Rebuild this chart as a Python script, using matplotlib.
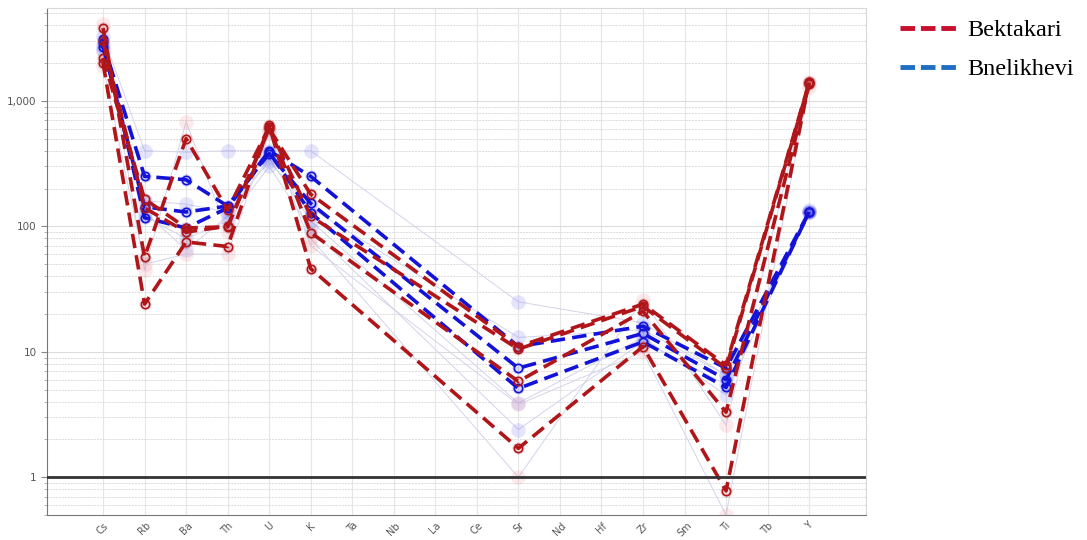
import matplotlib.pyplot as plt
import numpy as np

# spider diagram: normalised trace elements (log scale)
elements = ["Cs", "Rb", "Ba", "Th", "U", "K", "Ta", "Nb", "La", "Ce",
            "Sr", "Nd", "Hf", "Zr", "Sm", "Ti", "Tb", "Y"]
nan = np.nan

# Bektakari samples (red)
bek_1 = [2000, 24, 75, 69, 640, 46, nan, nan, nan, nan, 1.7, nan, nan, 11, nan, 0.78, nan, 1400]
bek_2 = [3800, 57, 500, 135, 620, 89, nan, nan, nan, nan, 5.8, nan, nan, 21, nan, 3.3, nan, 1350]
bek_3 = [2200, 165, 97, 99, 600, 180, nan, nan, nan, nan, 11, nan, nan, 24, nan, 7.8, nan, 1400]
bek_4 = [3000, 140, 90, 100, 615, 120, nan, nan, nan, nan, 10.5, nan, nan, 23, nan, 7.4, nan, 1380]

# Bnelikhevi samples (blue)
bne_1 = [2900, 250, 235, 145, 400, 250, nan, nan, nan, nan, 11, nan, nan, 16, nan, 7.4, nan, 130]
bne_2 = [2700, 143, 130, 145, 380, 152, nan, nan, nan, nan, 7.4, nan, nan, 14, nan, 6.0, nan, 130]
bne_3 = [3100, 117, 97, 140, 390, 128, nan, nan, nan, nan, 5.1, nan, nan, 12, nan, 5.2, nan, 130]

# faint background samples
bg_blue = [
    [3300, 400, 390, 400, 400, 400, nan, nan, nan, nan, 25, nan, nan, 17, nan, 6.5, nan, 130],
    [2500, 130, 65, 120, 350, 110, nan, nan, nan, nan, 3.9, nan, nan, 13, nan, 4.5, nan, 130],
    [2600, 160, 150, 130, 330, 140, nan, nan, nan, nan, 13, nan, nan, 15, nan, 6.5, nan, 135],
    [2800, 120, 80, 110, 300, 95, nan, nan, nan, nan, 2.4, nan, nan, 12, nan, 5.5, nan, 130],
]
bg_red = [
    [4100, 45, 680, 90, 600, 80, nan, nan, nan, nan, 1.0, nan, nan, 26, nan, 2.6, nan, 1400],
    [1900, 50, 60, 60, 550, 70, nan, nan, nan, nan, 3.8, nan, nan, 10, nan, 0.5, nan, 1300],
]

RED = "#b01519"
BLUE = "#1212d8"

fig = plt.figure(figsize=(10.87, 5.40), dpi=100)
ax = fig.add_axes([0.0432, 0.0463, 0.7535, 0.939])
x = np.arange(len(elements))


def draw(vals, color, faint=False):
    v = np.array(vals, dtype=float)
    m = ~np.isnan(v)
    if faint:
        ax.plot(x[m], v[m], color="#d4d4ea", lw=0.7, zorder=2)
        ax.scatter(x[m], v[m], s=110, color=color, alpha=0.16, lw=0, zorder=2)
    else:
        ax.scatter(x[m], v[m], s=80, color=color, alpha=0.15, lw=0, zorder=3)
        ax.plot(x[m], v[m], color=color, lw=2.6, ls=(0, (4, 2)), marker="o",
                ms=6, mfc="none", mec=color, mew=1.2, zorder=4)


for s in bg_blue:
    draw(s, "#5b5bf0", faint=True)
for s in bg_red:
    draw(s, "#e87a8a", faint=True)
for s in [bne_1, bne_2, bne_3]:
    draw(s, BLUE)
for s in [bek_1, bek_2, bek_3, bek_4]:
    draw(s, RED)

ax.axhline(1, color="#333333", lw=2, zorder=5)

ax.set_yscale("log")
ax.set_ylim(0.5, 5500)
ax.set_xlim(-1.35, 18.37)
ax.set_xticks(x)
ax.set_xticklabels(elements, rotation=45, fontsize=7, color="#555555")
ax.set_yticks([1, 10, 100, 1000])
ax.set_yticklabels(["1", "10", "100", "1,000"], fontsize=7.5, color="#555555")
ax.tick_params(axis="x", length=0, pad=4)
ax.tick_params(axis="y", which="major", length=4, color="#888888")
ax.tick_params(axis="y", which="minor", length=2, color="#aaaaaa", labelleft=False)

ax.grid(axis="x", color="#e6e6e6", lw=0.8)
ax.grid(axis="y", which="major", color="#dcdcdc", lw=0.8)
ax.grid(axis="y", which="minor", color="#dcdcdc", lw=0.7, ls=(0, (2, 1)))
ax.set_axisbelow(True)

for side in ["left", "bottom"]:
    ax.spines[side].set_color("#777777")
for side in ["top", "right"]:
    ax.spines[side].set_color("#d8d8d8")

# legend outside the plot
h1, = ax.plot([], [], color="#c8102e", lw=3.5, ls=(0, (3, 1.2)))
h2, = ax.plot([], [], color="#1f6fc0", lw=3.5, ls=(0, (3, 1.2)))
fig.legend([h1, h2], ["Bektakari", "Bnelikhevi"], loc="upper left",
           bbox_to_anchor=(0.808, 1.005), frameon=False, handlelength=2.3,
           handletextpad=0.45, prop={"family": "Liberation Serif", "size": 17.5},
           labelspacing=0.7)

fig.savefig("out.png", dpi=100)
